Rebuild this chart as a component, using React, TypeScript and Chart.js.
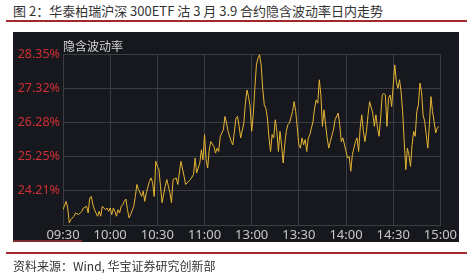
import React, { useEffect, useRef } from "react";
import { Chart, registerables } from "chart.js";

Chart.register(...registerables);

const titleText = "图 2：华泰柏瑞沪深 300ETF 沽 3 月 3.9 合约隐含波动率日内走势";
const sourceText = "资料来源：Wind, 华宝证券研究创新部";
const panelLabel = "隐含波动率";

const timeLabels = ["09:30", "10:00", "10:30", "11:00", "13:00", "13:30", "14:00", "14:30", "15:00"];
const yTickValues = [23.175, 24.21, 25.245, 26.28, 27.315, 28.35];
const yTickLabels = ["", "24.21%", "25.25%", "26.28%", "27.32%", "28.35%"];

// minutes since 09:30 (trading minutes, lunch break removed)
const minutes = [
  0, 2, 3, 4, 5, 7, 8, 10, 12, 13, 15, 16, 17, 18, 19, 20, 22, 23, 24, 25, 27, 28, 29, 30,
  31, 32, 33, 34, 35, 36, 37, 38, 39, 40, 41, 42, 43, 45, 46, 47, 48, 50, 51, 52, 53, 55, 56, 57, 58, 59, 60,
  61, 62, 63, 65, 66, 68, 69, 70, 72, 73, 75, 77, 78, 80, 81, 83, 84, 85, 87, 88, 89, 90,
  91, 92, 93, 94, 96, 97, 98, 99, 100, 102, 103, 104, 105, 107, 108, 110, 111, 112, 113, 115, 116, 117, 118, 119, 120,
  121, 122, 123, 124, 125, 126, 127, 128, 129, 130, 131, 132, 133, 134, 135, 136, 137, 138, 139, 140,
  141, 142, 143, 144, 146, 147, 148, 149, 150, 151, 152, 153, 154, 155, 156, 157, 159, 160,
  161, 162, 163, 164, 165, 166, 167, 168, 169, 170, 172, 173, 175, 176, 177, 178, 180,
  181, 182, 183, 184, 186, 187, 188, 189, 190, 191, 192, 193, 194, 195, 197, 198, 199, 200,
  201, 202, 203, 204, 205, 206, 207, 208, 209, 211, 212, 213, 214, 215, 216, 217, 218, 219, 220,
  221, 222, 223, 224, 225, 226, 227, 228, 229, 230, 231, 232, 233, 234, 235, 236, 237, 238, 239,
];

const ivValues = [
  23.64, 23.89, 23.69, 23.24, 23.34, 23.44, 23.54, 23.49, 23.59, 23.69, 23.74, 23.54, 23.99, 24.04, 23.79, 23.64, 23.44, 23.59, 23.44, 23.74, 23.64, 23.69, 23.59, 23.69,
  23.49, 23.69, 23.59, 23.44, 23.64, 23.54, 23.74, 23.79, 23.89, 23.96, 23.64, 23.39, 23.49, 23.74, 24.04, 24.40, 24.25, 24.04, 24.20, 23.89, 24.15, 24.50, 24.60, 24.45, 24.04, 25.10, 24.95,
  24.85, 24.35, 23.85, 24.35, 24.55, 24.15, 23.85, 24.55, 24.60, 24.40, 25.10, 24.65, 24.40, 24.50, 24.55, 24.70, 25.20, 24.75, 25.05, 25.45, 25.15, 25.91,
  25.15, 24.90, 25.45, 25.70, 25.55, 25.35, 25.50, 25.40, 25.85, 26.06, 26.46, 26.26, 26.01, 25.70, 25.60, 26.41, 26.46, 26.16, 25.81, 26.26, 26.86, 27.26, 27.06, 26.76, 26.01,
  26.51, 27.31, 28.02, 28.22, 28.33, 28.02, 27.31, 26.81, 26.71, 26.41, 25.81, 25.40, 25.91, 25.81, 26.36, 26.01, 25.40, 26.01, 25.60, 25.05,
  25.60, 26.01, 26.21, 26.26, 26.61, 26.91, 26.61, 26.11, 25.60, 25.50, 25.81, 25.60, 25.76, 25.40, 25.81, 25.91, 26.31, 26.71,
  26.96, 26.86, 27.57, 27.11, 26.16, 26.66, 26.21, 25.81, 25.50, 25.70, 26.06, 26.36, 26.56, 26.21, 25.70, 25.81, 25.40,
  25.20, 25.25, 24.80, 25.30, 25.70, 25.81, 25.40, 26.11, 26.51, 26.01, 25.70, 26.01, 26.51, 26.91, 26.56, 26.16, 26.51, 26.11,
  25.86, 26.41, 27.11, 27.16, 27.11, 26.16, 27.01, 27.11, 26.76, 28.02, 27.51, 27.31, 27.57, 27.21, 26.61, 25.70, 24.85, 25.50, 25.30,
  24.95, 25.60, 26.01, 25.86, 26.61, 26.81, 27.47, 27.21, 26.51, 26.31, 25.91, 25.50, 26.21, 27.06, 26.61, 26.31, 25.96, 26.11, 26.16,
];

const PANEL_BG = "#16181d";
const GRID = "#3a3d43";

export default function App() {
  const canvasRef = useRef<HTMLCanvasElement | null>(null);

  useEffect(() => {
    if (!canvasRef.current) return;
    const points = minutes.map((m, i) => ({ x: m, y: ivValues[i] }));
    const chart = new Chart(canvasRef.current, {
      type: "line",
      data: {
        datasets: [
          {
            data: points,
            borderColor: "#e6b535",
            borderWidth: 1,
            pointRadius: 0,
            tension: 0,
            fill: false,
          },
        ],
      },
      options: {
        animation: false,
        responsive: false,
        maintainAspectRatio: false,
        layout: { padding: { top: 22, right: 16, bottom: 0, left: 0 } },
        plugins: { legend: { display: false }, tooltip: { enabled: false } },
        scales: {
          x: {
            type: "linear",
            min: 0,
            max: 240,
            afterBuildTicks: (axis: any) => {
              axis.ticks = timeLabels.map((_, i) => ({ value: i * 30 }));
            },
            afterFit: (axis: any) => {
              axis.height = 17;
            },
            ticks: {
              color: "#c8c8c8",
              font: { family: "Noto Sans", size: 13 },
              padding: 2,
              maxRotation: 0,
              autoSkip: false,
              callback: (v: any) => timeLabels[Math.round(Number(v) / 30)] ?? "",
            },
            grid: { color: GRID, lineWidth: 1, drawTicks: false },
            border: { display: true, color: GRID },
          },
          y: {
            type: "linear",
            min: yTickValues[0],
            max: yTickValues[yTickValues.length - 1],
            afterBuildTicks: (axis: any) => {
              axis.ticks = yTickValues.map((v) => ({ value: v }));
            },
            afterFit: (axis: any) => {
              axis.width = 50;
            },
            ticks: {
              color: "#cf3036",
              font: { family: "Noto Sans", size: 12.5 },
              padding: 3,
              autoSkip: false,
              callback: (_v: any, i: number) => yTickLabels[i] ?? "",
            },
            grid: { color: GRID, lineWidth: 1, drawTicks: false },
            border: { display: true, color: GRID },
          },
        },
      },
    });
    return () => chart.destroy();
  }, []);

  return (
    <div
      style={{
        position: "absolute",
        left: 0,
        top: 0,
        width: 472,
        height: 278,
        background: "#ffffff",
        overflow: "hidden",
      }}
    >
      <div
        style={{
          position: "absolute",
          left: 13,
          top: 2,
          fontFamily: "'Noto Sans CJK SC', 'Noto Sans', sans-serif",
          fontSize: 13,
          color: "#333333",
          whiteSpace: "nowrap",
          lineHeight: "18px",
        }}
      >
        {titleText}
      </div>
      <div style={{ position: "absolute", left: 6, top: 20, width: 461, height: 2, background: "#a3282c" }} />
      <div
        style={{
          position: "absolute",
          left: 13,
          top: 32,
          width: 446,
          height: 210,
          background: PANEL_BG,
        }}
      >
        <canvas ref={canvasRef} width={446} height={210} style={{ display: "block", width: 446, height: 210 }} />
        <div
          style={{
            position: "absolute",
            left: 50,
            top: 6,
            fontFamily: "'Noto Sans CJK SC', sans-serif",
            fontSize: 12,
            color: "#d2d2d2",
            lineHeight: "16px",
            whiteSpace: "nowrap",
          }}
        >
          {panelLabel}
        </div>
        <div style={{ position: "absolute", left: 0, top: 208, width: 69, height: 2, background: "#7a2a2e" }} />
      </div>
      <div style={{ position: "absolute", left: 6, top: 252, width: 461, height: 2, background: "#a3282c" }} />
      <div
        style={{
          position: "absolute",
          left: 13,
          top: 258,
          fontFamily: "'Noto Sans CJK SC', 'Noto Sans', sans-serif",
          fontSize: 12,
          color: "#333333",
          whiteSpace: "nowrap",
          lineHeight: "16px",
        }}
      >
        {sourceText}
      </div>
    </div>
  );
}
